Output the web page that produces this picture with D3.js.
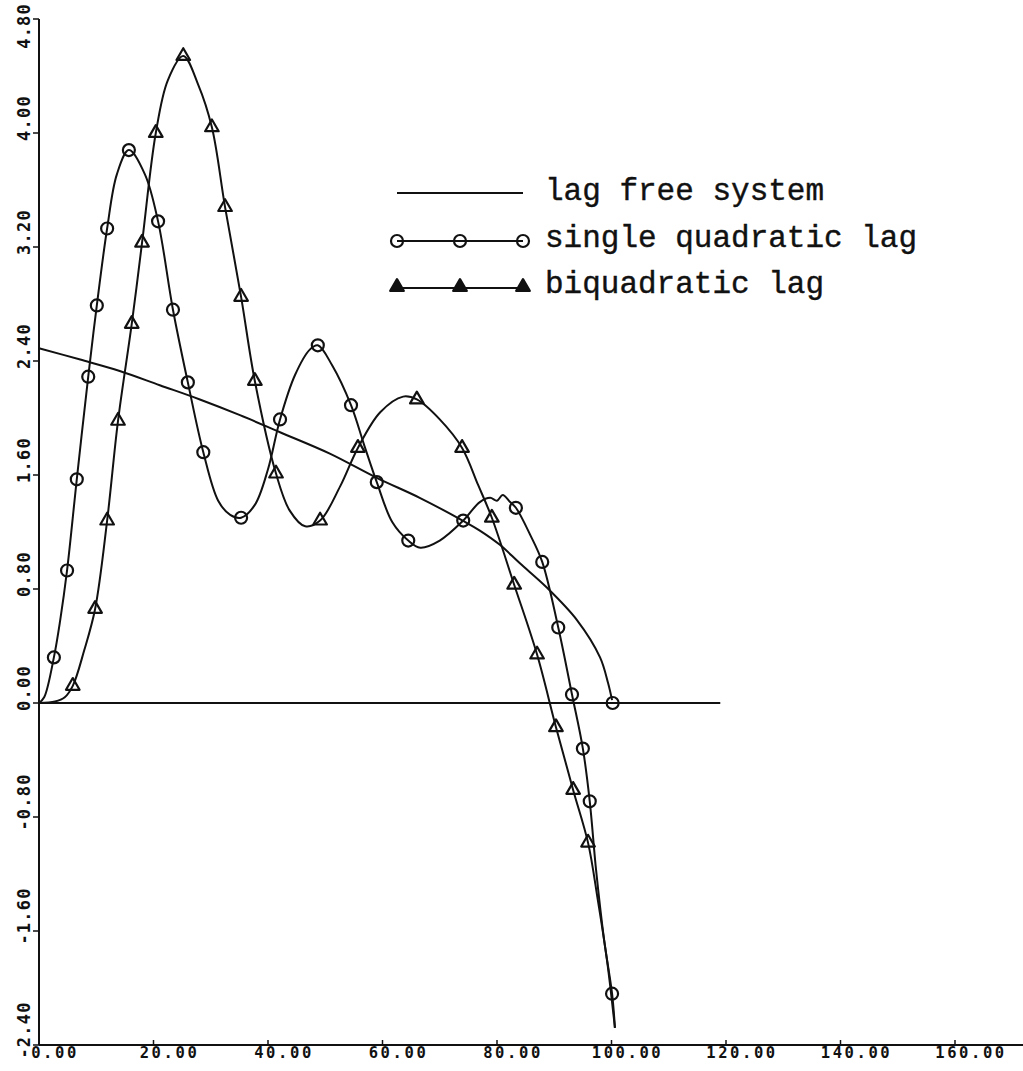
<!DOCTYPE html>
<html>
<head>
<meta charset="utf-8">
<script src="https://cdn.jsdelivr.net/npm/d3@7"></script>
<style>
  html, body { margin: 0; padding: 0; background: #fff; }
  svg { display: block; }
</style>
</head>
<body>
<div id="chart"></div>
<script>
// ---------------- data ----------------
const xTicks = [0, 20, 40, 60, 80, 100, 120, 140, 160];
const xTickLabels = ["0.00", "20.00", "40.00", "60.00", "80.00", "100.00", "120.00", "140.00", "160.00"];
const yTicks = [-2.4, -1.6, -0.8, 0, 0.8, 1.6, 2.4, 3.2, 4.0, 4.8];
const yTickLabels = ["-2.40", "-1.60", "-0.80", "0.00", "0.80", "1.60", "2.40", "3.20", "4.00", "4.80"];

const seriesNames = ["lag free system", "single quadratic lag", "biquadratic lag"];

// lag free system
const lagFreeX = [0, 7.2, 14.1, 21.1, 28.1, 35.1, 42.1, 50.8, 59.0, 66.5, 74.0, 77.0, 80.5, 84.0, 88.7, 94.0, 98.0, 99.4, 100.1];
const lagFreeY = [2.49, 2.41, 2.33, 2.23, 2.13, 2.02, 1.90, 1.75, 1.58, 1.44, 1.28, 1.21, 1.11, 0.98, 0.81, 0.58, 0.32, 0.14, 0.02];
const lagFreeEndX = [100.2];
const lagFreeEndY = [0.0];

// single quadratic lag
const singleX = [0, 0.9, 2.6, 3.7, 4.9, 6.6, 8.6, 10.1, 11.9, 13.6, 15.7, 18.5, 20.8, 23.4, 26.0, 28.7, 31.3, 33.4, 35.3, 37.7, 40.0, 42.1, 44.7, 47.3, 48.7, 51.2, 54.5, 56.8, 59.0, 61.7, 64.5, 66.6, 70.0, 74.1, 77.0, 78.8, 80.0, 81.0, 82.3, 83.3, 85.8, 87.9, 90.7, 93.1, 95.0, 96.2, 97.3, 98.7, 100.1, 100.6];
const singleY = [0, 0.04, 0.32, 0.58, 0.93, 1.57, 2.29, 2.79, 3.33, 3.71, 3.88, 3.71, 3.38, 2.76, 2.25, 1.76, 1.42, 1.32, 1.30, 1.39, 1.64, 1.99, 2.30, 2.48, 2.51, 2.37, 2.09, 1.81, 1.55, 1.27, 1.14, 1.09, 1.14, 1.28, 1.41, 1.44, 1.42, 1.46, 1.41, 1.37, 1.18, 0.99, 0.53, 0.06, -0.32, -0.69, -1.17, -1.66, -2.04, -2.28];
const singleMarkX = [2.6, 4.9, 6.6, 8.6, 10.1, 11.9, 15.7, 20.8, 23.4, 26.0, 28.7, 35.3, 42.1, 48.7, 54.5, 59.0, 64.5, 74.1, 83.3, 87.9, 90.7, 93.1, 95.0, 96.2, 100.1];
const singleMarkY = [0.32, 0.93, 1.57, 2.29, 2.79, 3.33, 3.88, 3.38, 2.76, 2.25, 1.76, 1.30, 1.99, 2.51, 2.09, 1.55, 1.14, 1.28, 1.37, 0.99, 0.53, 0.06, -0.32, -0.69, -2.04];

// biquadratic lag
const biquadX = [0, 2.8, 4.5, 5.9, 7.9, 9.8, 11.9, 13.8, 16.2, 18.0, 20.4, 22.5, 25.2, 27.8, 30.2, 32.5, 35.3, 37.7, 41.4, 43.8, 46.5, 49.1, 52.6, 55.7, 59.6, 63.6, 66.0, 70.0, 73.9, 76.7, 79.1, 83.0, 87.0, 90.3, 93.3, 95.9, 97.6, 99.2, 100.6];
const biquadY = [0, 0.01, 0.04, 0.12, 0.37, 0.66, 1.28, 1.98, 2.66, 3.23, 4.00, 4.37, 4.54, 4.34, 4.04, 3.48, 2.85, 2.26, 1.61, 1.35, 1.24, 1.28, 1.52, 1.79, 2.04, 2.15, 2.13, 1.99, 1.79, 1.53, 1.30, 0.83, 0.34, -0.17, -0.61, -0.98, -1.38, -1.80, -2.28];
const biquadMarkX = [5.9, 9.8, 11.9, 13.8, 16.2, 18.0, 20.4, 25.2, 30.2, 32.5, 35.3, 37.7, 41.4, 49.1, 55.7, 66.0, 73.9, 79.1, 83.0, 87.0, 90.3, 93.3, 95.9];
const biquadMarkY = [0.12, 0.66, 1.28, 1.98, 2.66, 3.23, 4.00, 4.54, 4.04, 3.48, 2.85, 2.26, 1.61, 1.28, 1.79, 2.13, 1.79, 1.30, 0.83, 0.34, -0.17, -0.61, -0.98];

const zeroLineX = [0, 119];
const zeroLineY = [0, 0];

// ---------------- layout ----------------
const W = 1023, H = 1071;
const svg = d3.select("#chart").append("svg").attr("width", W).attr("height", H);

const x = d3.scaleLinear().domain([0, 160]).range([39, 955]);
const y = d3.scaleLinear().domain([-2.4, 4.8]).range([1045, 19]);

const ink = "#111";
const lineW = 2;

// axes
const g = svg.append("g");
g.append("line").attr("x1", x(0)).attr("x2", W).attr("y1", y(-2.4)).attr("y2", y(-2.4))
  .attr("stroke", ink).attr("stroke-width", 2);
g.append("line").attr("x1", x(0)).attr("x2", x(0)).attr("y1", y(-2.4)).attr("y2", y(4.8))
  .attr("stroke", ink).attr("stroke-width", 2);

// x ticks
g.selectAll(".xt").data(xTicks).enter().append("line")
  .attr("x1", d => x(d)).attr("x2", d => x(d))
  .attr("y1", y(-2.4)).attr("y2", y(-2.4) - 5)
  .attr("stroke", ink).attr("stroke-width", 1.5);
g.selectAll(".xl").data(xTicks).enter().append("text")
  .attr("x", d => x(d) + 16).attr("y", 1058)
  .attr("text-anchor", "middle")
  .attr("font-family", "'DejaVu Sans Mono', monospace")
  .attr("font-weight", "bold")
  .attr("font-size", 15.5)
  .attr("letter-spacing", 2.6)
  .attr("fill", ink)
  .text((d, i) => xTickLabels[i]);

// y ticks
g.selectAll(".yt").data(yTicks).enter().append("line")
  .attr("x1", x(0) - 6).attr("x2", x(0))
  .attr("y1", d => y(d)).attr("y2", d => y(d))
  .attr("stroke", ink).attr("stroke-width", 1.5);
const yTop = y.domain()[1];
g.selectAll(".yl").data(yTicks).enter().append("text")
  .attr("transform", d => d === yTop
      ? `translate(30,3) rotate(-90)`
      : `translate(30,${y(d) - 15}) rotate(-90)`)
  .attr("text-anchor", d => d === yTop ? "end" : "middle")
  .attr("font-family", "'DejaVu Sans Mono', monospace")
  .attr("font-weight", "bold")
  .attr("font-size", 17)
  .attr("letter-spacing", 1.2)
  .attr("fill", ink)
  .text((d, i) => yTickLabels[i]);

// lines
const lineGen = d3.line().x(d => x(d[0])).y(d => y(d[1])).curve(d3.curveCatmullRom.alpha(0.5));
const zip = (a, b) => a.map((v, i) => [v, b[i]]);

svg.append("path").datum(zip(zeroLineX, zeroLineY))
  .attr("d", d3.line().x(d => x(d[0])).y(d => y(d[1])))
  .attr("fill", "none").attr("stroke", ink).attr("stroke-width", lineW);

svg.append("path").datum(zip(lagFreeX, lagFreeY)).attr("d", lineGen)
  .attr("fill", "none").attr("stroke", ink).attr("stroke-width", lineW);
svg.append("path").datum(zip(singleX, singleY)).attr("d", lineGen)
  .attr("fill", "none").attr("stroke", ink).attr("stroke-width", lineW);
svg.append("path").datum(zip(biquadX, biquadY)).attr("d", lineGen)
  .attr("fill", "none").attr("stroke", ink).attr("stroke-width", lineW);

// markers
const circR = 6;
function circles(sel, pts) {
  sel.selectAll(null).data(pts).enter().append("circle")
    .attr("cx", d => d[0]).attr("cy", d => d[1]).attr("r", circR)
    .attr("fill", "none").attr("stroke", ink).attr("stroke-width", 2.2);
}
const tri = d3.symbol().type(d3.symbolTriangle).size(80);
function triangles(sel, pts, filled) {
  sel.selectAll(null).data(pts).enter().append("path")
    .attr("d", tri)
    .attr("transform", d => `translate(${d[0]},${d[1]})`)
    .attr("fill", filled ? ink : "none").attr("stroke", ink).attr("stroke-width", 2.2)
    .attr("stroke-linejoin", "round");
}
const mk = svg.append("g");
circles(mk, zip(singleMarkX, singleMarkY).map(d => [x(d[0]), y(d[1])]));
circles(mk, zip(lagFreeEndX, lagFreeEndY).map(d => [x(d[0]), y(d[1])]));
triangles(mk, zip(biquadMarkX, biquadMarkY).map(d => [x(d[0]), y(d[1])]), false);

// legend
const leg = svg.append("g");
const legX0 = 397, legX1 = 523, legTextX = 545;
const legRows = [193, 241, 288];
const legBase = [200, 247, 293];
legRows.forEach((ly, i) => {
  leg.append("line").attr("x1", legX0).attr("x2", legX1).attr("y1", ly).attr("y2", ly)
    .attr("stroke", ink).attr("stroke-width", 2);
  leg.append("text").attr("x", legTextX).attr("y", legBase[i])
    .attr("font-family", "'Courier New', 'Liberation Mono', monospace")
    .attr("font-size", 31)
    .attr("fill", ink)
    .attr("stroke", ink).attr("stroke-width", 0.4)
    .text(seriesNames[i]);
});
const legMarkXs = [legX0, (legX0 + legX1) / 2, legX1];
circles(leg, legMarkXs.map(v => [v, legRows[1]]));
triangles(leg, legMarkXs.map(v => [v, legRows[2] - 1]), true);
</script>
</body>
</html>
